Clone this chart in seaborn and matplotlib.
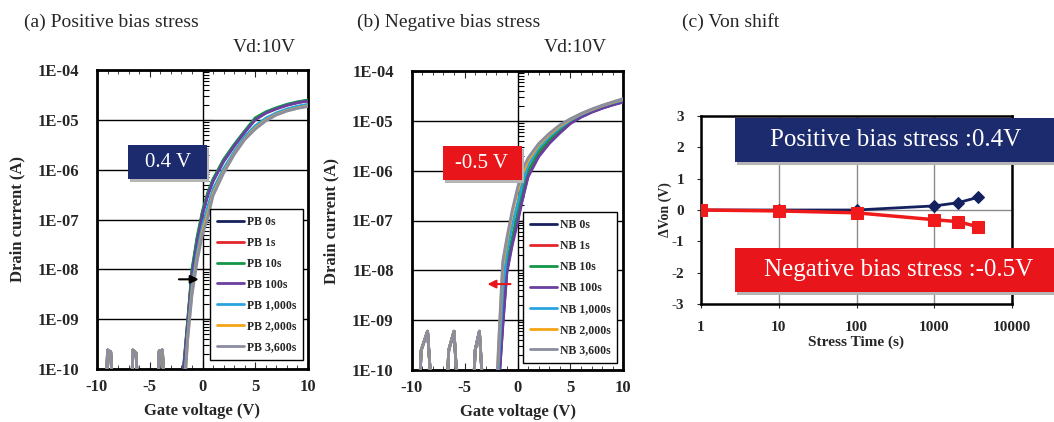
import seaborn as sns
import matplotlib.pyplot as plt
from matplotlib.patches import Rectangle
from matplotlib.ticker import FixedLocator, MultipleLocator, NullFormatter

sns.set_style("ticks")
plt.rcParams['font.family'] = ['Liberation Serif', 'DejaVu Serif']
plt.rcParams['axes.unicode_minus'] = False

# ---- data: (a) positive bias stress transfer curves ----
vg_a = [-10, -9.2, -9.0, -8.7, -8.4, -6.8, -6.6, -6.3, -6.0, -4.3, -4.1, -3.8, -3.5,
        -2.0, -1.8, -1.4, -1.0, -0.5, 0.0, 0.5, 1.0, 2.0, 3.0, 4.0, 5.0, 6.0, 7.0, 8.0, 9.0, 10.0]
off_a = [1e-11, 1e-11, 2.4e-10, 2.2e-10, 1e-11, 1e-11, 2.4e-10, 2.1e-10, 1e-11,
         1e-11, 2.3e-10, 2.4e-10, 1e-11]
pb_names = ["PB 0s", "PB 1s", "PB 10s", "PB 100s", "PB 1,000s", "PB 2,000s", "PB 3,600s"]
pb_0s = off_a + [1e-11, 1e-10, 9e-10, 9e-9, 4.2e-8, 1.4e-7, 3.3e-7, 6.2e-7, 1.55e-6, 3.1e-6,
                 5.8e-6, 1.05e-5, 1.4e-5, 1.7e-5, 2.0e-5, 2.25e-5, 2.45e-5]
pb_1s = off_a + [1e-11, 9e-11, 8.5e-10, 8.5e-9, 4e-8, 1.35e-7, 3.2e-7, 6e-7, 1.5e-6, 3.0e-6,
                 5.7e-6, 1.03e-5, 1.38e-5, 1.68e-5, 1.98e-5, 2.22e-5, 2.42e-5]
pb_10s = off_a + [1e-11, 1.1e-10, 1e-9, 1e-8, 4.6e-8, 1.5e-7, 3.5e-7, 6.5e-7, 1.6e-6, 3.2e-6,
                  6e-6, 1.1e-5, 1.45e-5, 1.75e-5, 2.05e-5, 2.3e-5, 2.5e-5]
pb_100s = off_a + [1e-11, 9e-11, 8e-10, 7.5e-9, 3.6e-8, 1.25e-7, 3e-7, 5.8e-7, 1.45e-6, 2.95e-6,
                   5.6e-6, 1e-5, 1.36e-5, 1.66e-5, 1.95e-5, 2.2e-5, 2.4e-5]
pb_1000s = off_a + [1e-11, 3e-11, 5e-10, 4.5e-9, 2.2e-8, 7.5e-8, 1.8e-7, 4e-7, 1.05e-6, 2.3e-6,
                    4.6e-6, 7.6e-6, 1.08e-5, 1.38e-5, 1.65e-5, 1.88e-5, 2.05e-5]
pb_2000s = off_a + [1e-11, 2e-11, 4.2e-10, 3.5e-9, 1.7e-8, 5.8e-8, 1.3e-7, 3.3e-7, 9e-7, 2.05e-6,
                    4.1e-6, 6.8e-6, 9.8e-6, 1.28e-5, 1.53e-5, 1.73e-5, 1.9e-5]
pb_3600s = off_a + [1e-11, 2e-11, 4e-10, 3e-9, 1.5e-8, 5e-8, 1.1e-7, 3e-7, 8.5e-7, 2e-6,
                    4e-6, 6.5e-6, 9.5e-6, 1.25e-5, 1.5e-5, 1.7e-5, 1.85e-5]

# ---- data: (b) negative bias stress transfer curves ----
vg_b = [-10, -9.4, -9.1, -8.5, -7.95, -6.8, -6.5, -6.0, -5.5, -4.3, -4.0, -3.6, -3.1,
        -2.1, -1.8, -1.4, -1.0, -0.5, 0.0, 0.5, 1.0, 2.0, 3.0, 4.0, 5.0, 6.0, 7.0, 8.0, 9.0, 10.0]
off_b = [1e-11, 1e-11, 2.5e-10, 6e-10, 1e-11, 1e-11, 2.5e-10, 6e-10, 1e-11,
         1e-11, 2.5e-10, 6e-10, 1e-11]
nb_names = ["NB 0s", "NB 1s", "NB 10s", "NB 100s", "NB 1,000s", "NB 2,000s", "NB 3,600s"]
nb_0s = off_b + [1e-11, 4e-11, 8e-10, 1.0e-8, 3.5e-8, 1.0e-7, 3.0e-7, 8.0e-7, 2.0e-6, 3.6e-6,
                 5.8e-6, 9.0e-6, 1.2e-5, 1.5e-5, 1.8e-5, 2.1e-5, 2.4e-5]
nb_1s = off_b + [1e-11, 5e-11, 1.0e-9, 1.2e-8, 4.0e-8, 1.2e-7, 3.5e-7, 9.0e-7, 2.2e-6, 3.9e-6,
                 6.2e-6, 9.5e-6, 1.25e-5, 1.55e-5, 1.85e-5, 2.15e-5, 2.45e-5]
nb_10s = off_b + [1e-11, 6e-11, 1.5e-9, 1.4e-8, 4.5e-8, 1.4e-7, 4.0e-7, 1.0e-6, 2.4e-6, 4.2e-6,
                  6.6e-6, 9.8e-6, 1.28e-5, 1.6e-5, 1.9e-5, 2.2e-5, 2.5e-5]
nb_100s = off_b + [1e-11, 4e-11, 7e-10, 9.0e-9, 3.2e-8, 9.0e-8, 2.8e-7, 7.5e-7, 1.9e-6, 3.5e-6,
                   5.7e-6, 8.8e-6, 1.18e-5, 1.48e-5, 1.78e-5, 2.08e-5, 2.38e-5]
nb_1000s = off_b + [1e-11, 1.2e-10, 4e-9, 2.5e-8, 8.0e-8, 2.2e-7, 6.0e-7, 1.3e-6, 2.9e-6, 4.8e-6,
                    7.3e-6, 1.03e-5, 1.33e-5, 1.65e-5, 1.98e-5, 2.3e-5, 2.62e-5]
nb_2000s = off_b + [1e-11, 2.5e-10, 1.2e-8, 4.0e-8, 1.4e-7, 3.8e-7, 9.0e-7, 1.6e-6, 3.3e-6, 5.3e-6,
                    7.9e-6, 1.07e-5, 1.38e-5, 1.68e-5, 2.02e-5, 2.36e-5, 2.72e-5]
nb_3600s = off_b + [1e-11, 3e-10, 1.5e-8, 4.6e-8, 1.6e-7, 4.5e-7, 1.1e-6, 1.8e-6, 3.5e-6, 5.6e-6,
                    8.3e-6, 1.1e-5, 1.4e-5, 1.72e-5, 2.05e-5, 2.4e-5, 2.8e-5]

# ---- data: (c) Von shift ----
t_stress = [1, 10, 100, 1000, 2000, 3600]
dvon_pb = [0.0, 0.0, 0.0, 0.13, 0.23, 0.4]
dvon_nb = [0.0, -0.03, -0.09, -0.31, -0.37, -0.53]

curve_colors = ['#17215c', '#e3262b', '#149548', '#6b3fa0', '#2aa4de', '#f2a516', '#8b8da0']
decades = [1e-10, 1e-9, 1e-8, 1e-7, 1e-6, 1e-5, 1e-4]
decade_labels = ["1E-10", "1E-09", "1E-08", "1E-07", "1E-06", "1E-05", "1E-04"]
minor_pos = [k * d for d in decades[:-1] for k in range(2, 10)]

W, H = 1054, 422
fig = plt.figure(figsize=(W / 100, H / 100), dpi=100)


def transfer_panel(rect, vg, curves, names, leg_anchor):
    ax = fig.add_axes(rect)
    for cur, name, col in zip(curves, names, curve_colors):
        sns.lineplot(x=vg, y=cur, color=col, lw=2, label=name, ax=ax,
                     sort=False, estimator=None, zorder=3)
    ax.set_yscale('log')
    ax.set_xlim(-10, 10)
    ax.set_ylim(1e-10, 1e-4)
    ax.yaxis.set_major_locator(FixedLocator(decades))
    ax.set_yticklabels(decade_labels)
    ax.yaxis.set_minor_formatter(NullFormatter())
    ax.yaxis.set_minor_locator(FixedLocator([]))
    ax.set_xticks([-10, -5, 0, 5, 10])
    ax.xaxis.set_minor_locator(MultipleLocator(1))
    ax.tick_params(axis='x', which='both', direction='in', top=True, labelsize=12, pad=7)
    ax.tick_params(axis='x', which='major', length=5)
    ax.tick_params(axis='x', which='minor', length=3)
    ax.tick_params(axis='y', which='both', length=0, labelsize=12, pad=13)
    for lab in ax.get_xticklabels() + ax.get_yticklabels():
        lab.set_fontweight('bold')
    ax.yaxis.grid(True, which='major', color='black', lw=1)
    ax.axvline(0, color='black', lw=1, zorder=1)
    # small log ticks along the Vg = 0 line
    ax.plot([0] * len(minor_pos), minor_pos, ls='none', marker=1, ms=4,
            mew=0.8, color='black', zorder=2)
    ax.plot([0] * len(decades), decades, ls='none', marker=1, ms=7,
            mew=0.8, color='black', zorder=2)
    for sp in ax.spines.values():
        sp.set_linewidth(2)
        sp.set_color('black')
    ax.set_xlabel("Gate voltage (V)", fontsize=12, fontweight='bold')
    ax.set_ylabel("Drain current (A)", fontsize=12, fontweight='bold')
    ax.xaxis.set_label_coords(0.5, -0.115)
    ax.yaxis.set_label_coords(-0.34, 0.5)
    leg = ax.legend(loc='lower right', bbox_to_anchor=leg_anchor, borderaxespad=0,
                    fancybox=False, framealpha=1, edgecolor='black',
                    prop={'weight': 'bold', 'size': 8.5}, handlelength=2.3,
                    handletextpad=0.25, labelspacing=0.76, borderpad=0.55)
    leg.get_frame().set_linewidth(1)
    leg.set_zorder(5)
    return ax


ax_a = transfer_panel([97 / W, 53 / H, 211 / W, 299 / H], vg_a,
                      [pb_0s, pb_1s, pb_10s, pb_100s, pb_1000s, pb_2000s, pb_3600s],
                      pb_names, (0.976, 0.03))
ax_a.annotate("", xy=(-0.1, 6.3e-9), xytext=(-2.5, 6.3e-9),
              arrowprops=dict(arrowstyle='-|>', color='black', lw=1.5, mutation_scale=12))

ax_b = transfer_panel([411.7 / W, 52 / H, 211.6 / W, 299 / H], vg_b,
                      [nb_0s, nb_1s, nb_10s, nb_100s, nb_1000s, nb_2000s, nb_3600s],
                      nb_names, (0.970, 0.023))
ax_b.annotate("", xy=(-3.1, 5.3e-9), xytext=(-0.4, 5.3e-9),
              arrowprops=dict(arrowstyle='-|>', color='#e8161b', lw=1.5, mutation_scale=12))

# ---- (c) Von shift ----
ax_c = fig.add_axes([701 / W, 118 / H, 311 / W, 188 / H])
ax_c.set_xscale('log')
sns.lineplot(x=t_stress, y=dvon_pb, color='#13215e', lw=2, marker='D', markersize=6,
             markeredgecolor='#13215e', ax=ax_c, zorder=4)
sns.lineplot(x=t_stress, y=dvon_nb, color='#f01a1a', lw=2.5, marker='s', markersize=9,
             markeredgecolor='#f01a1a', ax=ax_c, zorder=5)
ax_c.set_xlim(1, 10000)
ax_c.set_ylim(-3, 3)
ax_c.xaxis.set_major_locator(FixedLocator([1, 10, 100, 1000, 10000]))
ax_c.xaxis.set_minor_locator(FixedLocator([]))
ax_c.set_xticklabels(["1", "10", "100", "1000", "10000"])
ax_c.set_yticks([-3, -2, -1, 0, 1, 2, 3])
ax_c.set_yticklabels(["-3", "-2", "-1", "0", "1", "2", "3"])
ax_c.tick_params(axis='both', length=3, labelsize=11, pad=9)
for lab in ax_c.get_xticklabels() + ax_c.get_yticklabels():
    lab.set_fontweight('bold')
ax_c.xaxis.grid(True, which='major', color='#8c8c8c', lw=1)
ax_c.axhline(0, color='#8c8c8c', lw=1, zorder=1)
for sp in ax_c.spines.values():
    sp.set_linewidth(1.8)
    sp.set_color('black')
ax_c.set_xlabel("Stress Time (s)", fontsize=11, fontweight='bold')
ax_c.set_ylabel("ΔVon (V)", fontsize=10, fontweight='bold')
ax_c.xaxis.set_label_coords(0.5, -0.17)
ax_c.yaxis.set_label_coords(-0.093, 0.5)

# ---- titles and labels ----
fig.text(24 / W, 1 - 22 / H, "(a) Positive bias stress", fontsize=14, va='center', ha='left')
fig.text(357 / W, 1 - 22 / H, "(b) Negative bias stress", fontsize=14, va='center', ha='left')
fig.text(682 / W, 1 - 22 / H, "(c) Von shift", fontsize=14, va='center', ha='left')
fig.text(296 / W, 1 - 47 / H, "Vd:10V", fontsize=14, va='center', ha='right')
fig.text(607 / W, 1 - 47 / H, "Vd:10V", fontsize=14, va='center', ha='right')


def label_box(x0, y0, x1, y1, color, text, size, tx, ty):
    shadow = Rectangle((x0 / W + 0.002, 1 - y1 / H - 0.006), (x1 - x0) / W, (y1 - y0) / H,
                       transform=fig.transFigure, facecolor='#b5b5b5', edgecolor='none',
                       zorder=6)
    box = Rectangle((x0 / W, 1 - y1 / H), (x1 - x0) / W, (y1 - y0) / H,
                    transform=fig.transFigure, facecolor=color, edgecolor='none', zorder=7)
    fig.add_artist(shadow)
    fig.add_artist(box)
    fig.text(tx / W, 1 - ty / H, text, color='white', fontsize=size,
             ha='center', va='center', zorder=8)


label_box(128, 145, 207, 179, '#1c2a6e', "0.4 V", 15, 168, 162)
label_box(443, 146, 522, 180, '#e8161b', "-0.5 V", 15, 482, 163)
label_box(735, 118, 1060, 162, '#1c2a6e', "Positive bias stress :0.4V", 18, 896, 140)
label_box(735, 248, 1060, 292, '#e8161b', "Negative bias stress :-0.5V", 18, 899, 270)

fig.savefig("out.png", dpi=100)
